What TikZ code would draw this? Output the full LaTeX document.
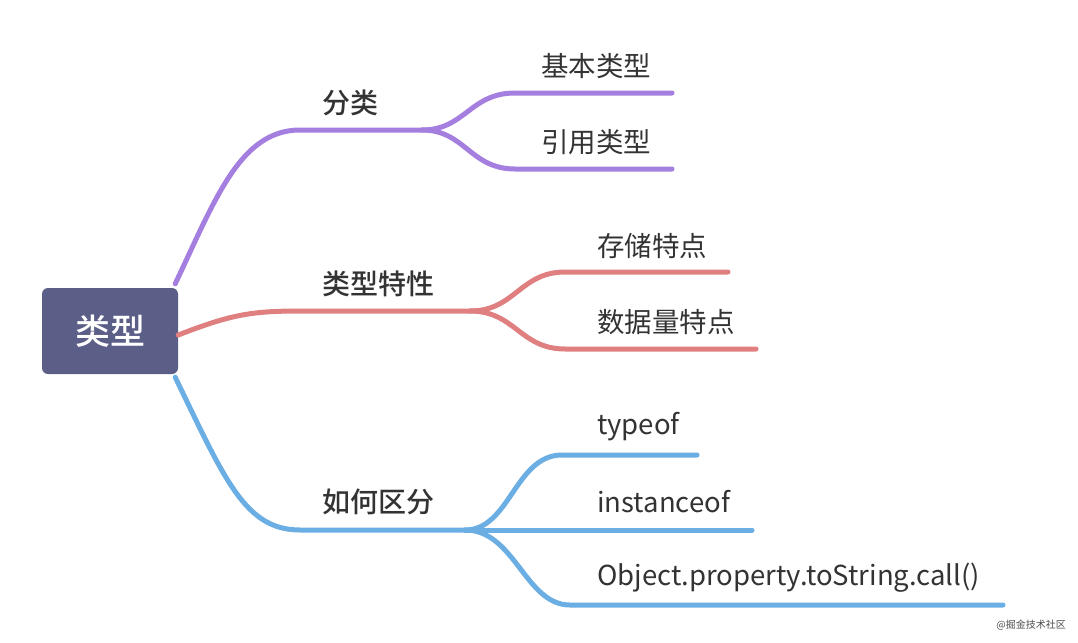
\documentclass[tikz,border=0pt]{standalone}
\usepackage{fontspec}
\setmainfont{Noto Sans CJK SC}[BoldFont={Noto Sans CJK SC Bold}]
\newfontfamily\medfont{Noto Sans CJK SC Medium}
\definecolor{cpurple}{HTML}{A47FDF}
\definecolor{cred}{HTML}{E07F80}
\definecolor{cblue}{HTML}{6BAEE3}
\definecolor{croot}{HTML}{5B5F88}
\definecolor{ctext}{HTML}{333333}
\tikzset{
  branch/.style={line width=5pt, line cap=round},
  lbl/.style={anchor=west, inner sep=0pt, text=ctext, font=\fontsize{27.5}{32}\selectfont},
  mainlbl/.style={anchor=center, inner sep=0pt, text=ctext, font=\medfont\fontsize{28}{32}\selectfont},
}
\begin{document}
\begin{tikzpicture}[x=1pt,y=-1pt]
\useasboundingbox (0,0) rectangle (1078,642);
% root
\node[fill=croot, rounded corners=6pt, minimum width=136pt, minimum height=86pt, inner sep=0pt,
      text=white, font=\medfont\fontsize{35}{40}\selectfont] (root) at (110,331) {类型};
% coordinates
\coordinate (pa) at (300,130);
\coordinate (ps) at (422,130);
\coordinate (pu) at (515,93);
\coordinate (pue) at (672,93);
\coordinate (pd) at (515,169);
\coordinate (pde) at (672,169);
\coordinate (ra) at (300,311);
\coordinate (rs) at (470,311);
\coordinate (ru) at (565,272);
\coordinate (rue) at (728,272);
\coordinate (rd) at (565,349);
\coordinate (rde) at (756,349);
\coordinate (ba) at (300,530);
\coordinate (bs) at (465,530);
\coordinate (bu) at (562,455);
\coordinate (bue) at (697,455);
\coordinate (bme) at (752,530);
\coordinate (bd) at (570,605);
\coordinate (bde) at (1003,605);
% purple
\draw[branch, cpurple] ([xshift=-3pt,yshift=4pt]root.north east) .. controls (215,200) and (240,130) .. (pa) -- (ps);
\draw[branch, cpurple] (ps) .. controls (465,130) and (470,93) .. (pu) -- (pue);
\draw[branch, cpurple] (ps) .. controls (465,130) and (470,169) .. (pd) -- (pde);
% red
\draw[branch, cred] ([yshift=-4pt]root.east) .. controls (230,315) and (250,311) .. (ra) -- (rs);
\draw[branch, cred] (rs) .. controls (515,311) and (520,272) .. (ru) -- (rue);
\draw[branch, cred] (rs) .. controls (515,311) and (520,349) .. (rd) -- (rde);
% blue
\draw[branch, cblue] ([xshift=-3pt,yshift=-3pt]root.south east) .. controls (225,480) and (245,530) .. (ba) -- (bs);
\draw[branch, cblue] (bs) .. controls (510,530) and (515,455) .. (bu) -- (bue);
\draw[branch, cblue] (bs) -- (bme);
\draw[branch, cblue] (bs) .. controls (515,530) and (525,605) .. (bd) -- (bde);
% labels
\node[mainlbl] (l1) at (350,103) {分类};
\node[lbl] (l11) at (541,66) {基本类型};
\node[lbl] (l12) at (541,142) {引用类型};
\node[mainlbl] (l2) at (378,284) {类型特性};
\node[lbl] (l21) at (597,246) {存储特点};
\node[lbl] (l22) at (597,322) {数据量特点};
\node[mainlbl] (l3) at (378,502) {如何区分};
\node[lbl] (l31) at (597,427) {typeof};
\node[lbl] (l32) at (597,502) {instanceof};
\node[lbl] (l33) at (597,578) {Object.property.toString.call()};
\node[anchor=east, inner sep=0pt, text=black!70, font=\fontsize{10}{12}\selectfont] (wm) at (1066,625) {@掘金技术社区};
\end{tikzpicture}
\end{document}
